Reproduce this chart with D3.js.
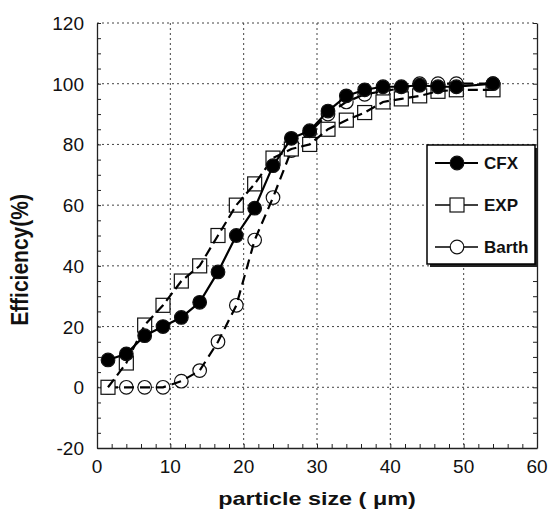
<!DOCTYPE html>
<html lang='en'>
<head>
<meta charset="utf-8">
<style>
body { margin: 0; background: #fff; }
text { font-family: Arial, "Liberation Sans", sans-serif; fill: #111; }
.grid line { stroke: #444; stroke-width: 1; stroke-dasharray: 2,3; }
.axis path, .axis line { stroke: #222; }
</style>
</head>
<body>
<svg width="552" height="514"></svg>
<script src="https://cdn.jsdelivr.net/npm/d3@7"></script>
<script>
  // particle size (um), same stations for all three series
  var sizes = [1.5, 4, 6.5, 9, 11.5, 14, 16.5, 19, 21.5, 24, 26.5, 29, 31.5, 34, 36.5, 39, 41.5, 44, 46.5, 49, 54];
  var cfx   = [9, 11, 17, 20, 23, 28, 38, 50, 59, 73, 82, 84.5, 91, 96, 98, 99, 99, 99.5, 99, 99, 100];
  var exp   = [0, 8, 20.5, 27, 35, 40, 50, 60, 67, 75.5, 78.5, 80, 85, 88, 90.5, 94, 95, 96, 97.5, 98, 98];
  var barth = [0, 0, 0, 0, 2, 5.5, 15, 27, 48.5, 62.5, 78, 84, 90, 94, 96.5, 97.5, 98.5, 100, 100, 100, 100];
  var seriesNames = ["CFX", "EXP", "Barth"];
  var xTicks = [0, 10, 20, 30, 40, 50, 60];
  var yTicks = [-20, 0, 20, 40, 60, 80, 100, 120];

  var svg = d3.select("svg");
  var plotL = 97, plotR = 537, plotT = 23, plotB = 448;

  var x = d3.scaleLinear().domain([0, 60]).range([plotL, plotR]),
      y = d3.scaleLinear().domain([-20, 120]).range([plotB, plotT]);

  // dotted grid
  var grid = svg.append("g").attr("class", "grid");
  grid.selectAll("line.gx").data(xTicks.slice(1, -1)).enter().append("line")
      .attr("x1", x).attr("x2", x).attr("y1", plotT).attr("y2", plotB);
  grid.selectAll("line.gy").data(yTicks.slice(1)).enter().append("line")
      .attr("x1", plotL).attr("x2", plotR).attr("y1", y).attr("y2", y);

  // axes with inward ticks
  var minorX = d3.range(0, 61, 2), minorY = d3.range(-20, 121, 5);
  svg.append("g").attr("class", "axis")
      .attr("transform", "translate(0," + plotB + ")")
      .call(d3.axisTop(x).tickValues(minorX).tickSize(4).tickSizeOuter(0).tickFormat(""));
  svg.append("g").attr("class", "axis")
      .attr("transform", "translate(" + plotL + ",0)")
      .call(d3.axisRight(y).tickValues(minorY).tickSize(4).tickSizeOuter(0).tickFormat(""));
  svg.append("g").attr("class", "axis")
      .attr("transform", "translate(" + plotR + ",0)")
      .call(d3.axisLeft(y).tickValues(minorY).tickSize(4).tickSizeOuter(0).tickFormat(""));
  svg.selectAll(".axis path").attr("stroke-width", 1.3);

  // tick labels
  svg.append("g").selectAll("text").data(xTicks).enter().append("text")
      .attr("x", x).attr("y", plotB + 25)
      .attr("text-anchor", "middle").style("font-size", "19px")
      .text(function(d) { return d; });
  svg.append("g").selectAll("text").data(yTicks).enter().append("text")
      .attr("x", plotL - 13).attr("y", function(d) { return y(d) + 7; })
      .attr("text-anchor", "end").style("font-size", "19px")
      .text(function(d) { return d; });

  // axis titles
  svg.append("text")
      .attr("transform", "translate(317,505) scale(1.3,1)")
      .attr("text-anchor", "middle").style("font-size", "18px").style("font-weight", "bold")
      .text("particle size ( \u03bcm)");
  svg.append("text")
      .attr("transform", "translate(28,260) scale(1.15,1) rotate(-90)")
      .attr("text-anchor", "middle").style("font-size", "21px").style("font-weight", "bold")
      .text("Efficiency(%)");

  var series = [
    { name: seriesNames[0], values: cfx,   dash: null,   shape: "dot" },
    { name: seriesNames[1], values: exp,   dash: "10,5", shape: "square" },
    { name: seriesNames[2], values: barth, dash: "10,6", shape: "ring" }
  ];

  var line = d3.line()
      .x(function(d) { return x(d[0]); })
      .y(function(d) { return y(d[1]); });

  function drawMarker(g, shape) {
    if (shape === "square") {
      g.append("rect").attr("x", -7).attr("y", -7).attr("width", 14).attr("height", 14)
        .attr("fill", "#fff").attr("stroke", "#111").attr("stroke-width", 1.2);
    } else {
      g.append("circle").attr("r", 6.8)
        .attr("fill", shape === "dot" ? "#000" : "#fff")
        .attr("stroke", "#111").attr("stroke-width", 1.2);
    }
  }

  // Barth first, then EXP, CFX on top
  series.slice().reverse().forEach(function(s) {
    var pts = sizes.map(function(v, i) { return [v, s.values[i]]; });
    var g = svg.append("g");
    pts.forEach(function(p) {
      drawMarker(g.append("g").attr("transform", "translate(" + x(p[0]) + "," + y(p[1]) + ")"), s.shape);
    });
    g.append("path").datum(pts).attr("d", line)
        .attr("fill", "none").attr("stroke", "#000").attr("stroke-width", 2.2)
        .attr("stroke-dasharray", s.dash);
  });

  // legend
  var lg = svg.append("g");
  lg.append("rect").attr("x", 430).attr("y", 148).attr("width", 108).attr("height", 119).attr("fill", "#222");
  lg.append("rect").attr("x", 427).attr("y", 145).attr("width", 108).attr("height", 119)
      .attr("fill", "#fff").attr("stroke", "#000").attr("stroke-width", 1.5);
  series.forEach(function(s, i) {
    var ly = 163 + i * 42;
    lg.append("line").attr("x1", 435).attr("x2", 478).attr("y1", ly).attr("y2", ly)
        .attr("stroke", "#000").attr("stroke-width", i === 0 ? 2 : 1.3);
    drawMarker(lg.append("g").attr("transform", "translate(457," + ly + ")"), s.shape);
    lg.append("text").attr("x", 484).attr("y", ly + 6)
        .style("font-size", "17px").style("font-weight", "bold").text(s.name);
  });
</script>
</body>
</html>
